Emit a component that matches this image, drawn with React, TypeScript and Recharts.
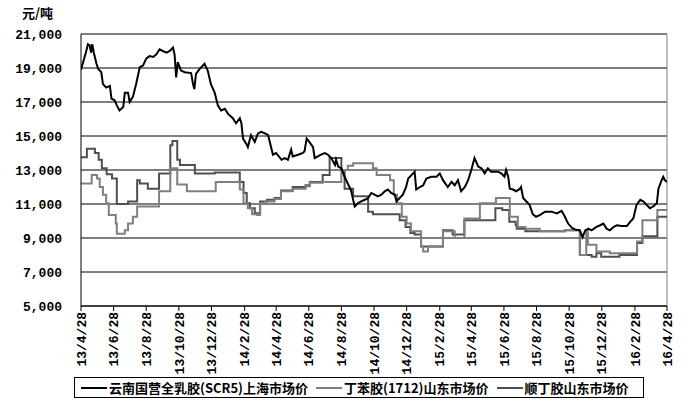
import { LineChart, Line, XAxis, YAxis, CartesianGrid, ReferenceLine, Legend } from 'recharts';

// 云南国营全乳胶(SCR5) 上海市场价
const rubberDates = [
  '2013-04-28', '2013-05-07', '2013-05-11', '2013-05-14', '2013-05-17', '2013-05-19', '2013-05-22', '2013-05-27',
  '2013-05-30', '2013-06-05', '2013-06-08', '2013-06-14', '2013-06-21', '2013-06-24', '2013-06-30', '2013-07-04',
  '2013-07-09', '2013-07-16', '2013-07-19', '2013-07-25', '2013-07-28', '2013-08-03', '2013-08-09', '2013-08-16',
  '2013-08-22', '2013-08-28', '2013-09-03', '2013-09-10', '2013-09-16', '2013-09-22', '2013-09-28', '2013-10-05',
  '2013-10-11', '2013-10-17', '2013-10-20', '2013-10-23', '2013-10-26', '2013-11-01', '2013-11-08', '2013-11-20',
  '2013-11-23', '2013-11-26', '2013-11-29', '2013-12-06', '2013-12-15', '2013-12-21', '2013-12-27', '2014-01-03',
  '2014-01-09', '2014-01-15', '2014-01-22', '2014-01-28', '2014-02-06', '2014-02-12', '2014-02-19', '2014-02-22',
  '2014-02-25', '2014-03-03', '2014-03-06', '2014-03-12', '2014-03-19', '2014-03-25', '2014-03-31', '2014-04-07',
  '2014-04-13', '2014-04-22', '2014-04-28', '2014-05-08', '2014-05-14', '2014-05-20', '2014-05-26', '2014-05-29',
  '2014-06-08', '2014-06-17', '2014-06-20', '2014-06-24', '2014-06-29', '2014-07-06', '2014-07-09', '2014-07-15',
  '2014-07-21', '2014-07-28', '2014-08-03', '2014-08-09', '2014-08-16', '2014-08-18', '2014-08-22', '2014-08-28',
  '2014-09-03', '2014-09-09', '2014-09-15', '2014-09-19', '2014-09-22', '2014-09-28', '2014-10-04', '2014-10-11',
  '2014-10-17', '2014-10-23', '2014-10-29', '2014-11-04', '2014-11-11', '2014-11-17', '2014-11-23', '2014-11-29',
  '2014-12-06', '2014-12-09', '2014-12-15', '2014-12-21', '2014-12-27', '2014-12-31', '2015-01-06', '2015-01-12',
  '2015-01-15', '2015-01-22', '2015-01-28', '2015-02-03', '2015-02-12', '2015-02-22', '2015-02-28', '2015-03-06',
  '2015-03-15', '2015-03-22', '2015-03-28', '2015-04-03', '2015-04-09', '2015-04-16', '2015-04-22', '2015-04-28',
  '2015-05-04', '2015-05-11', '2015-05-17', '2015-05-23', '2015-05-29', '2015-06-04', '2015-06-11', '2015-06-17',
  '2015-06-23', '2015-06-29', '2015-07-02', '2015-07-06', '2015-07-09', '2015-07-15', '2015-07-21', '2015-07-28',
  '2015-07-30', '2015-08-03', '2015-08-09', '2015-08-15', '2015-08-21', '2015-08-27', '2015-09-03', '2015-09-13',
  '2015-09-25', '2015-10-05', '2015-10-14', '2015-10-20', '2015-10-26', '2015-11-02', '2015-11-08', '2015-11-17',
  '2015-11-22', '2015-11-27', '2015-12-03', '2015-12-09', '2015-12-18', '2015-12-25', '2015-12-31', '2016-01-06',
  '2016-01-12', '2016-01-19', '2016-01-25', '2016-02-03', '2016-02-13', '2016-02-19', '2016-02-25', '2016-03-02',
  '2016-03-09', '2016-03-15', '2016-03-21', '2016-03-27', '2016-04-02', '2016-04-09', '2016-04-12', '2016-04-18',
  '2016-04-21', '2016-04-24', '2016-04-28',
];
const rubberPrices = [
  18900, 19900, 20400, 20350, 19900, 20400, 19900, 19250,
  18950, 18750, 18050, 17850, 17950, 17200, 17100, 16800,
  16500, 16700, 17550, 17550, 17000, 17300, 18050, 19050,
  19150, 19550, 19700, 19650, 19800, 20100, 20000, 19900,
  20000, 20200, 19800, 18450, 19350, 18850, 18750, 18700,
  18150, 17750, 18650, 18950, 19250, 18850, 18050, 17550,
  16800, 16500, 16600, 16300, 16050, 15750, 16050, 15750,
  14850, 14550, 14350, 15050, 14650, 15150, 15250, 15150,
  15050, 13900, 14000, 13600, 13700, 13600, 14200, 13800,
  13900, 14000, 14100, 14850, 14650, 14350, 13700, 13800,
  13900, 14000, 13900, 13700, 13300, 13600, 13200, 13100,
  12600, 12200, 11800, 11250, 10850, 11050, 11150, 11250,
  11350, 11650, 11550, 11450, 11550, 11750, 11850, 11650,
  11550, 11150, 11350, 11550, 12000, 12500, 12700, 12900,
  11850, 12000, 12100, 12500, 12600, 12600, 12800, 12400,
  12000, 12300, 12100, 12400, 11750, 12000, 12400, 13000,
  13700, 13200, 13100, 12800, 13100, 12900, 12900, 12900,
  12800, 12600, 13000, 12600, 11900, 11850, 11750, 11900,
  12000, 11350, 11150, 10950, 10400, 10250, 10350, 10550,
  10550, 10450, 10600, 10250, 9850, 9600, 9500, 9450,
  9050, 9450, 9550, 9450, 9650, 9750, 9850, 9550,
  9450, 9650, 9750, 9700, 9700, 9950, 10150, 10950,
  11250, 11150, 10950, 10750, 10850, 11050, 11900, 12400,
  12600, 12400, 12300,
];

// 丁苯胶(1712) 山东市场价 (price changes)
const sbrDates = [
  '2013-04-28', '2013-05-18', '2013-05-28', '2013-06-02', '2013-06-08', '2013-06-14', '2013-06-19', '2013-07-02',
  '2013-07-04', '2013-07-19', '2013-07-25', '2013-08-03', '2013-08-11', '2013-09-21', '2013-10-12', '2013-10-25',
  '2013-11-12', '2014-01-05', '2014-02-19', '2014-02-26', '2014-03-06', '2014-03-14', '2014-03-23', '2014-03-29',
  '2014-04-07', '2014-04-25', '2014-05-07', '2014-05-29', '2014-06-22', '2014-06-30', '2014-07-24', '2014-08-28',
  '2014-09-09', '2014-09-19', '2014-10-26', '2014-11-02', '2014-11-27', '2014-12-04', '2014-12-10', '2014-12-19',
  '2014-12-28', '2015-01-05', '2015-01-24', '2015-01-28', '2015-02-06', '2015-03-06', '2015-03-28', '2015-04-15',
  '2015-05-14', '2015-06-13', '2015-07-09', '2015-07-24', '2015-08-07', '2015-09-03', '2015-10-20', '2015-11-17',
  '2015-11-29', '2015-12-02', '2015-12-18', '2016-01-12', '2016-03-03', '2016-03-13', '2016-04-10', '2016-04-28',
];
const sbrPrices = [
  12200, 12700, 12500, 12000, 11550, 11050, 10350, 9850,
  9250, 9450, 9850, 10250, 10850, 11750, 13100, 12150,
  11750, 12300, 11850, 11050, 10750, 10400, 10350, 11050,
  11150, 11300, 11750, 11900, 12050, 12250, 12300, 13000,
  13250, 13400, 13100, 12700, 12400, 11550, 11050, 10250,
  9850, 9400, 8500, 8200, 8500, 9400, 9000, 10150,
  11050, 11350, 10250, 9650, 9550, 9400, 9450, 8000,
  9450, 8600, 8200, 8100, 8800, 10050, 10650, 10650,
];

// 顺丁胶 山东市场价 (price changes)
const brDates = [
  '2013-04-28', '2013-05-09', '2013-05-24', '2013-05-31', '2013-06-06', '2013-06-15', '2013-06-25', '2013-07-04',
  '2013-07-25', '2013-08-11', '2013-08-16', '2013-08-31', '2013-09-21', '2013-10-12', '2013-10-16', '2013-10-25',
  '2013-10-30', '2013-11-27', '2014-01-03', '2014-02-19', '2014-02-26', '2014-03-04', '2014-03-10', '2014-03-19',
  '2014-03-29', '2014-04-11', '2014-04-25', '2014-05-07', '2014-05-29', '2014-06-22', '2014-06-30', '2014-07-24',
  '2014-08-06', '2014-08-28', '2014-09-03', '2014-09-19', '2014-10-17', '2014-10-26', '2014-12-15', '2014-12-26',
  '2015-01-04', '2015-01-12', '2015-01-24', '2015-03-06', '2015-03-24', '2015-04-15', '2015-06-12', '2015-06-25',
  '2015-07-08', '2015-07-20', '2015-07-22', '2015-08-07', '2015-10-20', '2015-11-17', '2015-12-09', '2015-12-18',
  '2015-12-27', '2016-01-30', '2016-03-03', '2016-03-13', '2016-04-10', '2016-04-28',
];
const brPrices = [
  13750, 14250, 14000, 13600, 13100, 12750, 12500, 11000,
  11150, 12400, 12200, 11900, 12800, 14450, 14700, 13600,
  13300, 12800, 12850, 12300, 11650, 11050, 10750, 10450,
  11150, 11250, 11350, 11800, 12000, 12100, 12300, 12700,
  13700, 13000, 11900, 11450, 10550, 10400, 10050, 9650,
  9300, 9200, 8500, 9450, 9200, 10050, 10750, 10650,
  9950, 9750, 9550, 9400, 9450, 8000, 7900, 8100,
  7900, 8000, 8700, 9100, 10250, 10250,
];

const tickDates = [
  '2013-04-28', '2013-06-28', '2013-08-28', '2013-10-28', '2013-12-28', '2014-02-28', '2014-04-28',
  '2014-06-28', '2014-08-28', '2014-10-28', '2014-12-28', '2015-02-28', '2015-04-28', '2015-06-28',
  '2015-08-28', '2015-10-28', '2015-12-28', '2016-02-28', '2016-04-28',
];
const yTicks = [5000, 7000, 9000, 11000, 13000, 15000, 17000, 19000, 21000];

const seriesNames = ['云南国营全乳胶(SCR5)上海市场价', '丁苯胶(1712)山东市场价', '顺丁胶山东市场价'];
const COLORS = ['#000000', '#7f7f7f', '#4f4f4f'];

const toTime = (s: string) => Date.parse(s + 'T00:00:00Z');
const zip = (dates: string[], prices: number[]) => dates.map((d, i) => ({ t: toTime(d), price: prices[i] }));

const rubberData = zip(rubberDates, rubberPrices);
const sbrData = zip(sbrDates, sbrPrices);
const brData = zip(brDates, brPrices);
const xTicks = tickDates.map(toTime);

const MONO = '"Liberation Mono", "DejaVu Sans Mono", monospace';
const CJK = '"Noto Sans CJK SC", "Liberation Mono", sans-serif';

const XTick = ({ x, y, payload }: { x: number; y: number; payload: { value: number } }) => {
  const dt = new Date(payload.value);
  const label = `${dt.getUTCFullYear() % 100}/${dt.getUTCMonth() + 1}/${dt.getUTCDate()}`;
  return (
    <text
      x={x}
      y={y}
      transform={`rotate(-90, ${x}, ${y})`}
      textAnchor="end"
      dy="0.36em"
      fontFamily={MONO}
      fontWeight="bold"
      fontSize={13}
      fill="#000"
    >
      {label}
    </text>
  );
};

const LegendBox = () => (
  <div
    style={{
      border: '1px solid #000',
      display: 'flex',
      alignItems: 'center',
      height: 21,
      padding: '0 6px',
      background: '#fff',
      fontFamily: CJK,
      fontSize: 13,
      fontWeight: 'bold',
      whiteSpace: 'nowrap',
      boxSizing: 'border-box',
    }}
  >
    {seriesNames.map((name, i) => (
      <span key={name} style={{ display: 'flex', alignItems: 'center', marginRight: 8 }}>
        <span style={{ display: 'inline-block', width: 26, height: 2, background: COLORS[i], marginRight: 2 }} />
        {name}
      </span>
    ))}
  </div>
);

export default function App() {
  return (
    <div style={{ position: 'absolute', left: 0, top: 0, background: '#fff' }}>
      <LineChart width={684} height={407} margin={{ top: 34, right: 17, bottom: 0, left: 0 }}>
        <CartesianGrid vertical={false} stroke="#000" strokeWidth={1} />
        <XAxis
          dataKey="t"
          type="number"
          domain={[xTicks[0], xTicks[xTicks.length - 1]]}
          ticks={xTicks}
          interval={0}
          height={101}
          stroke="#000"
          tickSize={5}
          tickMargin={1}
          tick={XTick}
          allowDataOverflow
        />
        <YAxis
          domain={[5000, 21000]}
          ticks={yTicks}
          interval={0}
          width={81}
          stroke="#000"
          tickLine={false}
          tickSize={0}
          tickMargin={19}
          tickFormatter={(v: number) => v.toLocaleString('en-US')}
          tick={{ fontFamily: MONO, fontWeight: 'bold', fontSize: 13, fill: '#000' }}
          label={{
            content: () => (
              <text x={22} y={18} fontFamily={CJK} fontWeight="bold" fontSize={13} fill="#000">
                元/吨
              </text>
            ),
          }}
        />
        <ReferenceLine y={21000} stroke="#808080" />
        <ReferenceLine x={xTicks[xTicks.length - 1]} stroke="#808080" />
        <Line data={brData} dataKey="price" type="stepAfter" stroke={COLORS[2]} strokeWidth={2} dot={false} isAnimationActive={false} />
        <Line data={sbrData} dataKey="price" type="stepAfter" stroke={COLORS[1]} strokeWidth={2} dot={false} isAnimationActive={false} />
        <Line data={rubberData} dataKey="price" type="linear" stroke={COLORS[0]} strokeWidth={2} dot={false} isAnimationActive={false} />
        <Legend
          layout="horizontal"
          verticalAlign="middle"
          align="center"
          wrapperStyle={{ left: 74, top: 377, width: 'auto' }}
          content={LegendBox}
        />
      </LineChart>
    </div>
  );
}
